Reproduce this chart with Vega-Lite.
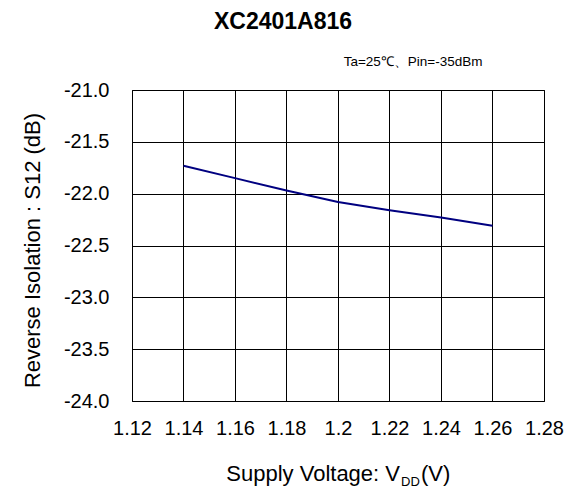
{
  "$schema": "https://vega.github.io/schema/vega-lite/v6.json",
  "width": 412,
  "height": 311,
  "autosize": "none",
  "padding": {"left": 132, "top": 90, "right": 24, "bottom": 87},
  "background": "white",
  "config": {
    "font": "Liberation Sans",
    "view": {"stroke": "black", "strokeWidth": 1},
    "axis": {
      "domain": false,
      "ticks": false,
      "grid": true,
      "gridColor": "black",
      "gridOpacity": 1,
      "gridWidth": 1,
      "labelFont": "Liberation Sans",
      "labelFontSize": 20,
      "labelColor": "black",
      "labelOverlap": false,
      "labelFlush": false,
      "titleFont": "Liberation Sans",
      "titleFontSize": 22,
      "titleFontWeight": "normal",
      "titleColor": "black"
    }
  },
  "title": {
    "text": "XC2401A816",
    "font": "Liberation Sans",
    "fontSize": 23,
    "fontWeight": "bold",
    "color": "black",
    "anchor": "middle",
    "frame": "group",
    "dx": -55,
    "offset": 21
  },
  "datasets": {
    "s12": [
      {"vdd": 1.14, "s12": -21.73},
      {"vdd": 1.16, "s12": -21.85},
      {"vdd": 1.18, "s12": -21.97},
      {"vdd": 1.2, "s12": -22.08},
      {"vdd": 1.22, "s12": -22.16},
      {"vdd": 1.24, "s12": -22.23},
      {"vdd": 1.26, "s12": -22.31}
    ],
    "note": [{"t": "Ta=25℃、Pin=-35dBm"}],
    "xt1": [{"t": "Supply Voltage: V"}],
    "xt2": [{"t": "DD"}],
    "xt3": [{"t": "(V)"}]
  },
  "layer": [
    {
      "data": {"name": "s12"},
      "mark": {"type": "line", "color": "#000080", "strokeWidth": 2},
      "encoding": {
        "x": {
          "field": "vdd",
          "type": "quantitative",
          "scale": {"domain": [1.12, 1.28], "nice": false, "zero": false},
          "axis": {
            "values": [1.12, 1.14, 1.16, 1.18, 1.2, 1.22, 1.24, 1.26, 1.28],
            "format": ".2~f",
            "labelPadding": 17,
            "title": null
          }
        },
        "y": {
          "field": "s12",
          "type": "quantitative",
          "scale": {"domain": [-24, -21], "nice": false, "zero": false},
          "axis": {
            "values": [-24, -23.5, -23, -22.5, -22, -21.5, -21],
            "format": ".1f",
            "labelExpr": "replace(datum.label, '−', '-')",
            "labelPadding": 23,
            "title": "Reverse Isolation : S12 (dB)",
            "titlePadding": 19,
            "titleY": 160
          }
        }
      }
    },
    {
      "data": {"name": "note"},
      "mark": {"type": "text", "align": "right", "baseline": "alphabetic", "fontSize": 13.5, "font": "Liberation Sans", "color": "black", "dx": -10, "dy": -24},
      "encoding": {
        "x": {"datum": 1.26},
        "y": {"datum": -21},
        "text": {"field": "t"}
      }
    },
    {
      "data": {"name": "xt1"},
      "mark": {"type": "text", "align": "right", "baseline": "alphabetic", "fontSize": 22, "font": "Liberation Sans", "color": "black", "dx": 62, "dy": 80},
      "encoding": {
        "x": {"datum": 1.2},
        "y": {"datum": -24},
        "text": {"field": "t"}
      }
    },
    {
      "data": {"name": "xt2"},
      "mark": {"type": "text", "align": "left", "baseline": "alphabetic", "fontSize": 13, "font": "Liberation Sans", "color": "black", "dx": 63, "dy": 85},
      "encoding": {
        "x": {"datum": 1.2},
        "y": {"datum": -24},
        "text": {"field": "t"}
      }
    },
    {
      "data": {"name": "xt3"},
      "mark": {"type": "text", "align": "left", "baseline": "alphabetic", "fontSize": 22, "font": "Liberation Sans", "color": "black", "dx": 83, "dy": 80},
      "encoding": {
        "x": {"datum": 1.2},
        "y": {"datum": -24},
        "text": {"field": "t"}
      }
    }
  ]
}
